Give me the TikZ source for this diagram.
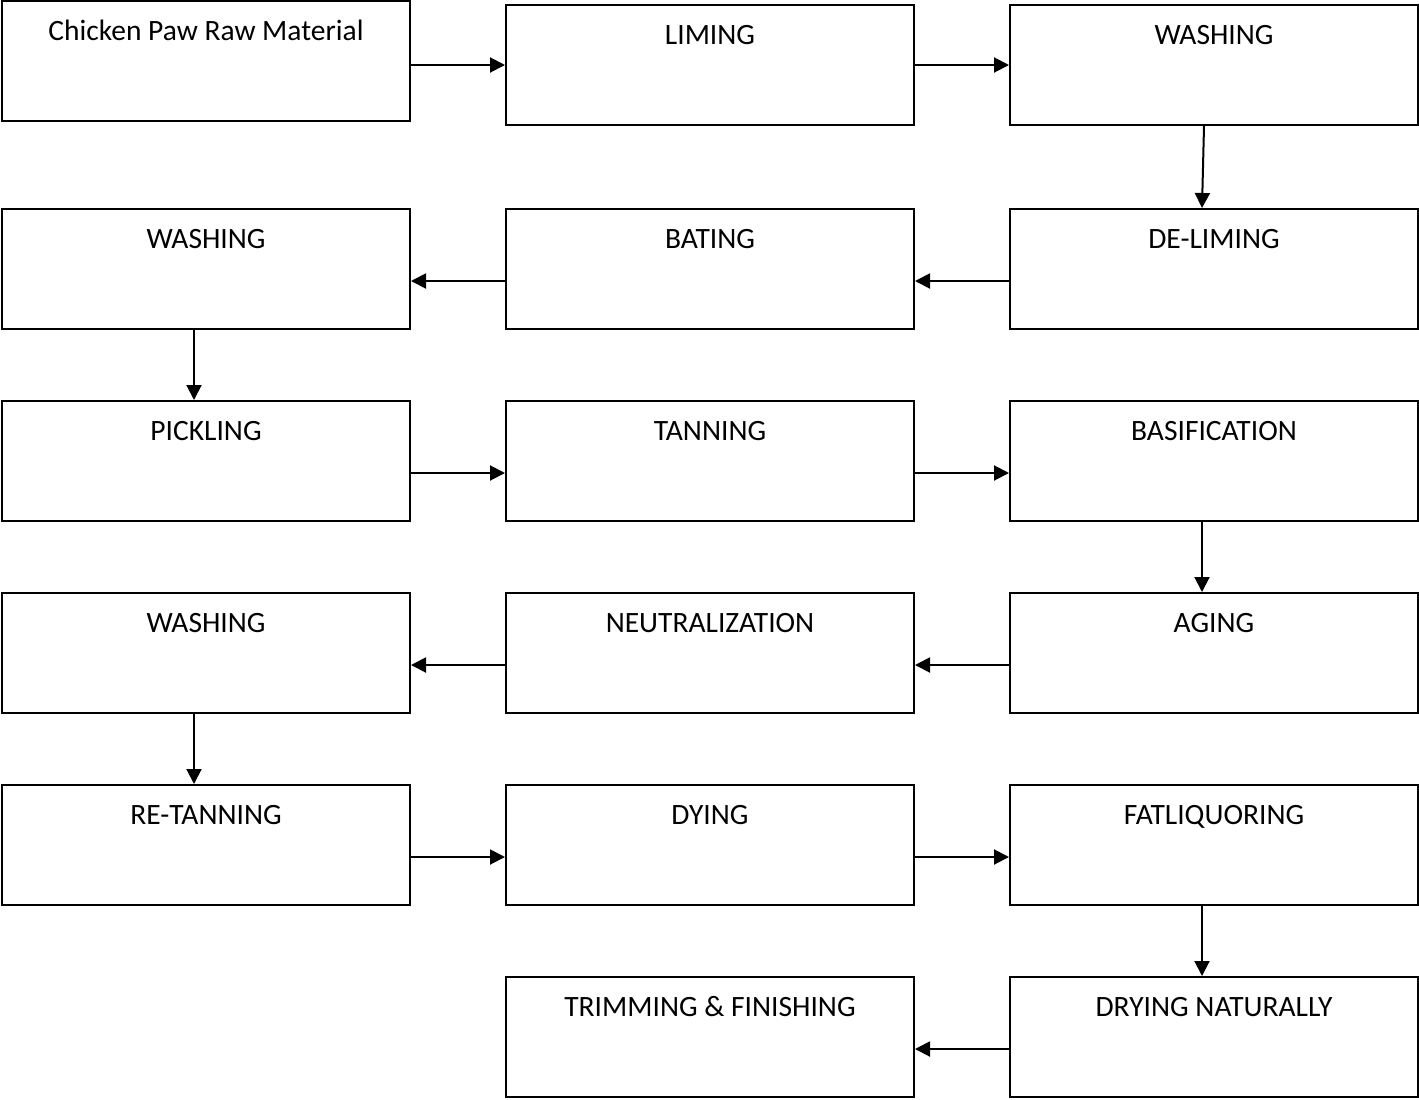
\documentclass[tikz,border=0pt]{standalone}
\usepackage{fontspec}
\setmainfont{Carlito}
\usetikzlibrary{arrows.meta}

\begin{document}
\begin{tikzpicture}[x=0.5pt,y=-0.5pt,
  stage/.style={draw,line width=1pt,minimum width=204pt,minimum height=60pt,inner sep=0pt,
    text height=19.5pt,text depth=40.5pt,font=\fontsize{14.75}{17}\selectfont},
  flow/.style={-{Triangle[length=7.5pt,width=7.5pt]},line width=1pt}]
  \useasboundingbox (0,0) rectangle (1419,1099);
  % row 1
  \node[stage] (raw) at (206,61) {Chicken Paw Raw Material};
  \node[stage] (liming) at (710,65) {LIMING};
  \node[stage] (wash1) at (1214,65) {WASHING};
  % row 2
  \node[stage] (wash2) at (206,269) {WASHING};
  \node[stage] (bating) at (710,269) {BATING};
  \node[stage] (deliming) at (1214,269) {DE-LIMING};
  % row 3
  \node[stage] (pickling) at (206,461) {PICKLING};
  \node[stage] (tanning) at (710,461) {TANNING};
  \node[stage] (basif) at (1214,461) {BASIFICATION};
  % row 4
  \node[stage] (wash3) at (206,653) {WASHING};
  \node[stage] (neutral) at (710,653) {NEUTRALIZATION};
  \node[stage] (aging) at (1214,653) {AGING};
  % row 5
  \node[stage] (retan) at (206,845) {RE-TANNING};
  \node[stage] (dying) at (710,845) {DYING};
  \node[stage] (fatliq) at (1214,845) {FATLIQUORING};
  % row 6
  \node[stage] (trim) at (710,1037) {TRIMMING \& FINISHING};
  \node[stage] (drying) at (1214,1037) {DRYING NATURALLY};

  \draw[flow] (raw.east |- liming.west) -- (liming.west);
  \draw[flow] (liming) -- (wash1);
  \draw[flow] ([xshift=-5pt]wash1.south) -- ([xshift=-6pt]deliming.north);
  \draw[flow] ([yshift=-6pt]deliming.west) -- ([yshift=-6pt]bating.east);
  \draw[flow] ([yshift=-6pt]bating.west) -- ([yshift=-6pt]wash2.east);
  \draw[flow] ([xshift=-6pt]wash2.south) -- ([xshift=-6pt]pickling.north);
  \draw[flow] ([yshift=-6pt]pickling.east) -- ([yshift=-6pt]tanning.west);
  \draw[flow] ([yshift=-6pt]tanning.east) -- ([yshift=-6pt]basif.west);
  \draw[flow] ([xshift=-6pt]basif.south) -- ([xshift=-6pt]aging.north);
  \draw[flow] ([yshift=-6pt]aging.west) -- ([yshift=-6pt]neutral.east);
  \draw[flow] ([yshift=-6pt]neutral.west) -- ([yshift=-6pt]wash3.east);
  \draw[flow] ([xshift=-6pt]wash3.south) -- ([xshift=-6pt]retan.north);
  \draw[flow] ([yshift=-6pt]retan.east) -- ([yshift=-6pt]dying.west);
  \draw[flow] ([yshift=-6pt]dying.east) -- ([yshift=-6pt]fatliq.west);
  \draw[flow] ([xshift=-6pt]fatliq.south) -- ([xshift=-6pt]drying.north);
  \draw[flow] ([yshift=-6pt]drying.west) -- ([yshift=-6pt]trim.east);
\end{tikzpicture}
\end{document}
